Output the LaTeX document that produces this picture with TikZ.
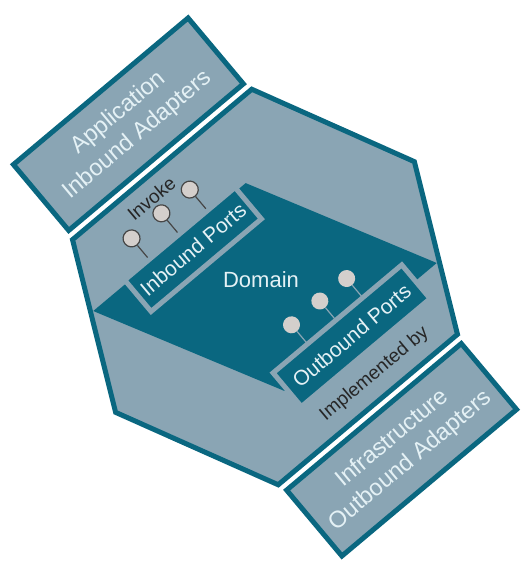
\documentclass[tikz,border=0pt]{standalone}
\usepackage{fontspec}
\setmainfont{Liberation Sans}
\definecolor{hexfill}{RGB}{138,165,180}
\definecolor{hexdark}{RGB}{10,103,128}
\definecolor{pingrey}{RGB}{212,207,204}
\definecolor{pinline}{RGB}{70,70,70}
\definecolor{paletext}{RGB}{228,241,245}

\begin{document}
\begin{tikzpicture}[x=1pt, y=1pt,
  adapter/.style={draw=hexdark, fill=hexfill, line width=5pt, minimum width=228pt, minimum height=86pt,
    align=center, text=paletext, font=\fontsize{23.5}{29}\selectfont},
  portbox/.style={draw=hexfill, fill=hexdark, line width=5pt, text=paletext, font=\fontsize{21}{24}\selectfont},
  inpin/.style={circle, draw=pinline, fill=pingrey, line width=1.2pt, minimum size=17pt, inner sep=0pt},
  outpin/.style={circle, fill=pingrey, minimum size=17pt, inner sep=0pt},
  lbl/.style={text=black!85, font=\fontsize{19}{22}\selectfont}]
\useasboundingbox (-265,-284) rectangle (266,287);
\begin{scope}[rotate=40, transform shape]
% hexagon
\draw[draw=hexdark, fill=hexfill, line width=5pt] (-117,160) -- (117,160) -- (195,0) -- (117,-160) -- (-117,-160) -- (-195,0) -- cycle;
% adapters
\node[adapter] (app) at (0,212.5) {Application\\Inbound Adapters};
\node[adapter] (infra) at (0,-212.5) {Infrastructure\\Outbound Adapters};
% domain
\fill[hexdark] (-147,92) -- (52,92) -- (147,-92) -- (-52,-92) -- cycle;
% ports
\node[portbox, minimum width=144pt, minimum height=41pt] (inports) at (-31,75) {Inbound Ports};
\node[portbox, minimum width=168pt, minimum height=44pt] (outports) at (35,-93) {Outbound Ports};
\foreach \x [count=\i] in {-71,-32,5} {
  \node[inpin] (in\i) at (\x,123) {};
  \coordinate (in\i foot) at (\x,98);
  \draw[pinline, line width=1.2pt] (in\i) -- (in\i foot);
}
\foreach \x [count=\i] in {-4,33,68} {
  \node[outpin] (out\i) at (\x,-46) {};
  \coordinate (out\i foot) at (\x,-69);
  \draw[hexfill, line width=1.2pt] (out\i) -- (out\i foot);
}
\node[lbl] (invoke) at (-30,141) {Invoke};
\node[lbl] (implby) at (28,-137) {Implemented by};
\end{scope}
\node[text=paletext, font=\fontsize{22}{26}\selectfont] (domain) at (-4,7) {Domain};
\end{tikzpicture}
\end{document}
